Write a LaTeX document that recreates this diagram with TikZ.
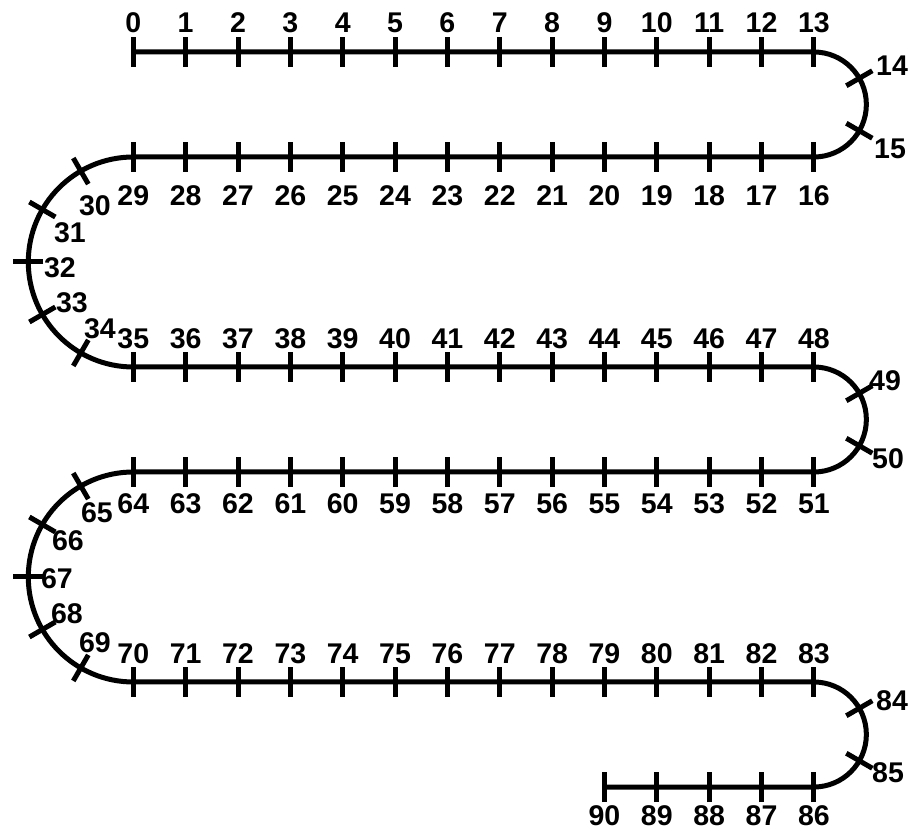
\documentclass[tikz,border=0pt]{standalone}
\usepackage{fontspec}
\setmainfont{Liberation Sans}
\begin{document}
\begin{tikzpicture}[x=1pt,y=1pt,line width=5pt,
  lab/.style={font=\bfseries\fontsize{28.5}{28.5}\selectfont, inner sep=0pt,
    text height=20.4pt, text depth=0pt}]
\useasboundingbox (0,0) rectangle (910,830);
\def\xo{133.3}
\def\dx{52.35}
\pgfmathsetmacro\xr{\xo+13*\dx}
\pgfmathsetmacro\xn{\xo+9*\dx}
% main serpentine line
\draw (\xo,778) -- (\xr,778) arc[start angle=90,end angle=-90,radius=52.5]
  -- (\xo,673) arc[start angle=90,end angle=270,radius=105]
  -- (\xr,463) arc[start angle=90,end angle=-90,radius=52.5]
  -- (\xo,358) arc[start angle=90,end angle=270,radius=105]
  -- (\xr,148) arc[start angle=90,end angle=-90,radius=52.5]
  -- (\xn,43);
% straight ticks
\foreach \yy in {778,673,463,358,148}{
  \foreach \i in {0,...,13}
    \draw ({\xo+\i*\dx},\yy-15) -- ++(0,30);
}
\foreach \i in {9,...,13}
  \draw ({\xo+\i*\dx},28) -- ++(0,30);
% arc ticks
\foreach \cy in {725.5,410.5,95.5}{
  \foreach \a in {30,-30}
    \draw[shift={(\xr,\cy)}] (\a:37.5) -- (\a:67.5);
}
\foreach \cy in {568,253}{
  \foreach \a in {120,150,180,210,240}
    \draw[shift={(\xo,\cy)}] (\a:90) -- (\a:120);
}
% labels on straight rows
\foreach \i in {0,...,13}
  \node[lab] (n\i) at ({\xo+\i*\dx},808) {\i};
\foreach \i [evaluate=\i as \n using int(29-\i)] in {0,...,13}
  \node[lab] (n\n) at ({\xo+\i*\dx},635) {\n};
\foreach \i [evaluate=\i as \n using int(35+\i)] in {0,...,13}
  \node[lab] (n\n) at ({\xo+\i*\dx},492) {\n};
\foreach \i [evaluate=\i as \n using int(64-\i)] in {0,...,13}
  \node[lab] (n\n) at ({\xo+\i*\dx},327) {\n};
\foreach \i [evaluate=\i as \n using int(70+\i)] in {0,...,13}
  \node[lab] (n\n) at ({\xo+\i*\dx},177) {\n};
\foreach \i [evaluate=\i as \n using int(99-\i)] in {9,...,13}
  \node[lab] (n\n) at ({\xo+\i*\dx},15) {\n};
% labels on arcs
\node[lab] (n14) at (892,765) {14};
\node[lab] (n15) at (890,682) {15};
\node[lab] (n30) at (95,625) {30};
\node[lab] (n31) at (70,598) {31};
\node[lab] (n32) at (60,563) {32};
\node[lab] (n33) at (72,528) {33};
\node[lab] (n34) at (100,502) {34};
\node[lab] (n49) at (885,450) {49};
\node[lab] (n50) at (888,372) {50};
\node[lab] (n65) at (97,318) {65};
\node[lab] (n66) at (68,290) {66};
\node[lab] (n67) at (57,252) {67};
\node[lab] (n68) at (67,217) {68};
\node[lab] (n69) at (95,188) {69};
\node[lab] (n84) at (892,130) {84};
\node[lab] (n85) at (888,58) {85};
\end{tikzpicture}
\end{document}
